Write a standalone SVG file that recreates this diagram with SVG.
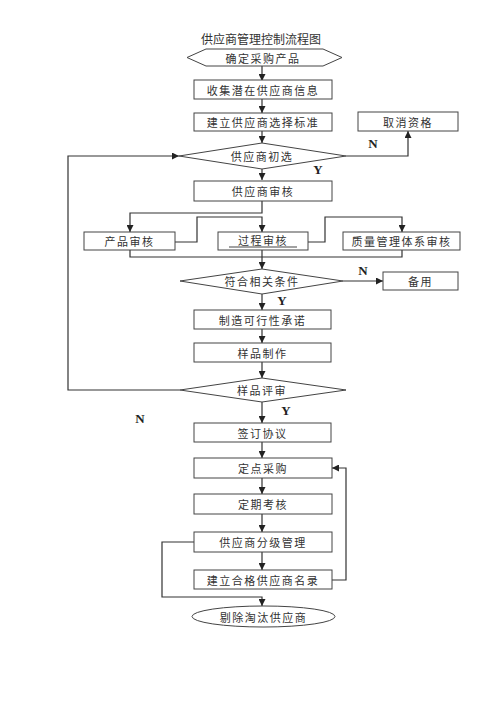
<svg xmlns="http://www.w3.org/2000/svg" width="500" height="707" viewBox="0 0 500 707">
<style>
.bg{fill:#fff}
.n{fill:#fff;stroke:#444;stroke-width:1}
.t{font-family:"Noto Sans CJK SC","Noto Sans",sans-serif;font-size:11px;fill:#333;text-anchor:middle;dominant-baseline:central;letter-spacing:1.5px}
.title{font-family:"Noto Sans CJK SC","Noto Sans",sans-serif;font-size:12px;fill:#333;text-anchor:middle;dominant-baseline:central}
.yn{font-family:"Liberation Serif",serif;font-size:13px;font-weight:bold;fill:#222;text-anchor:middle;dominant-baseline:central}
.c{fill:none;stroke:#333;stroke-width:1.2}
</style>
<defs>
<marker id="ah" viewBox="0 0 8 8" refX="8" refY="4" markerWidth="7" markerHeight="7" orient="auto" markerUnits="userSpaceOnUse">
<path d="M0,0 L8,4 L0,8 z" fill="#222"/>
</marker>
</defs>
<rect class="bg" width="500" height="707"/>
<text class="title" x="261" y="38">供应商管理控制流程图</text>

<g id="connectors">
<path class="c" marker-end="url(#ah)" d="M262,66 V81"/>
<path class="c" marker-end="url(#ah)" d="M262,99 V113"/>
<path class="c" marker-end="url(#ah)" d="M262,131 V143"/>
<path class="c" marker-end="url(#ah)" d="M262,169 V180"/>
<path class="c" marker-end="url(#ah)" d="M346,156 H408 V131"/>
<path class="c" marker-end="url(#ah)" d="M180,390 H68 V156 H179"/>
<path class="c" marker-end="url(#ah)" d="M262,201 V213 H130 V232"/>
<path class="c" marker-end="url(#ah)" d="M175,242 H197 V217 H262 V232"/>
<path class="c" marker-end="url(#ah)" d="M308,242 H325 V217 H402 V232"/>
<path class="c" d="M130,250 V257 H402 V250"/>
<path class="c" marker-end="url(#ah)" d="M262,250 V269"/>
<path class="c" marker-end="url(#ah)" d="M343,281 H383"/>
<path class="c" marker-end="url(#ah)" d="M262,294 V310"/>
<path class="c" marker-end="url(#ah)" d="M262,329 V343"/>
<path class="c" marker-end="url(#ah)" d="M262,362 V378"/>
<path class="c" marker-end="url(#ah)" d="M262,402 V423"/>
<path class="c" marker-end="url(#ah)" d="M262,442 V458"/>
<path class="c" marker-end="url(#ah)" d="M262,478 V494"/>
<path class="c" marker-end="url(#ah)" d="M262,514 V532"/>
<path class="c" marker-end="url(#ah)" d="M262,552 V570"/>
<path class="c" marker-end="url(#ah)" d="M332,580 H346 V468 H332"/>
<path class="c" marker-end="url(#ah)" d="M194,542 H162 V597 H262 V606"/>
</g>

<g id="start">
<polygon class="n" points="187,57.5 206,49 323,49 342,57.5 323,66 206,66"/>
<text class="t" x="263" y="57.5">确定采购产品</text>
</g>
<g id="collect">
<rect class="n" x="194" y="80" width="138" height="19"/>
<text class="t" x="263" y="89.5">收集潜在供应商信息</text>
</g>
<g id="criteria">
<rect class="n" x="194" y="113" width="138" height="18"/>
<text class="t" x="263" y="122">建立供应商选择标准</text>
</g>
<g id="cancel">
<rect class="n" x="358" y="112" width="100" height="19"/>
<text class="t" x="408" y="121.5">取消资格</text>
</g>
<g id="prelim">
<polygon class="n" points="179,156 262,143 346,156 262,169"/>
<text class="t" x="262" y="156">供应商初选</text>
</g>
<g id="audit">
<rect class="n" x="194" y="181" width="138" height="20"/>
<text class="t" x="263" y="191">供应商审核</text>
</g>
<g id="product">
<rect class="n" x="84" y="232" width="91" height="18"/>
<text class="t" x="129.5" y="241">产品审核</text>
</g>
<g id="process">
<rect class="n" x="218" y="232" width="90" height="18"/>
<text class="t" x="263" y="240">过程审核</text>
<line x1="229" y1="247" x2="297" y2="247" stroke="#444" stroke-width="1"/>
</g>
<g id="quality">
<rect class="n" x="343" y="232" width="117" height="18"/>
<text class="t" x="401.5" y="241">质量管理体系审核</text>
</g>
<g id="conform">
<polygon class="n" points="180,281 262,269 343,281 262,294"/>
<text class="t" x="262" y="281">符合相关条件</text>
</g>
<g id="backup">
<rect class="n" x="383" y="272" width="75" height="18"/>
<text class="t" x="420.5" y="281">备用</text>
</g>
<g id="commit">
<rect class="n" x="194" y="310" width="137" height="19"/>
<text class="t" x="262.5" y="319.5">制造可行性承诺</text>
</g>
<g id="sample">
<rect class="n" x="194" y="343" width="137" height="19"/>
<text class="t" x="262.5" y="352.5">样品制作</text>
</g>
<g id="review">
<polygon class="n" points="180,390 262,378 346,390 262,402"/>
<text class="t" x="262" y="390">样品评审</text>
</g>
<g id="sign">
<rect class="n" x="194" y="423" width="137" height="19"/>
<text class="t" x="262.5" y="432.5">签订协议</text>
</g>
<g id="fixed">
<rect class="n" x="194" y="458" width="138" height="20"/>
<text class="t" x="263" y="468">定点采购</text>
</g>
<g id="periodic">
<rect class="n" x="194" y="494" width="138" height="20"/>
<text class="t" x="263" y="504">定期考核</text>
</g>
<g id="grade">
<rect class="n" x="194" y="532" width="138" height="20"/>
<text class="t" x="263" y="542">供应商分级管理</text>
</g>
<g id="list">
<rect class="n" x="194" y="570" width="138" height="19"/>
<text class="t" x="263" y="579.5">建立合格供应商名录</text>
</g>
<g id="eliminate">
<rect class="n" x="192" y="606" width="143" height="21" rx="71" ry="10.5"/>
<text class="t" x="263.5" y="616.5">剔除淘汰供应商</text>
</g>

<g id="labels">
<text class="yn" x="373" y="143">N</text>
<text class="yn" x="318" y="169">Y</text>
<text class="yn" x="363" y="270">N</text>
<text class="yn" x="282" y="300">Y</text>
<text class="yn" x="286" y="410">Y</text>
<text class="yn" x="140" y="418">N</text>
</g>
</svg>
